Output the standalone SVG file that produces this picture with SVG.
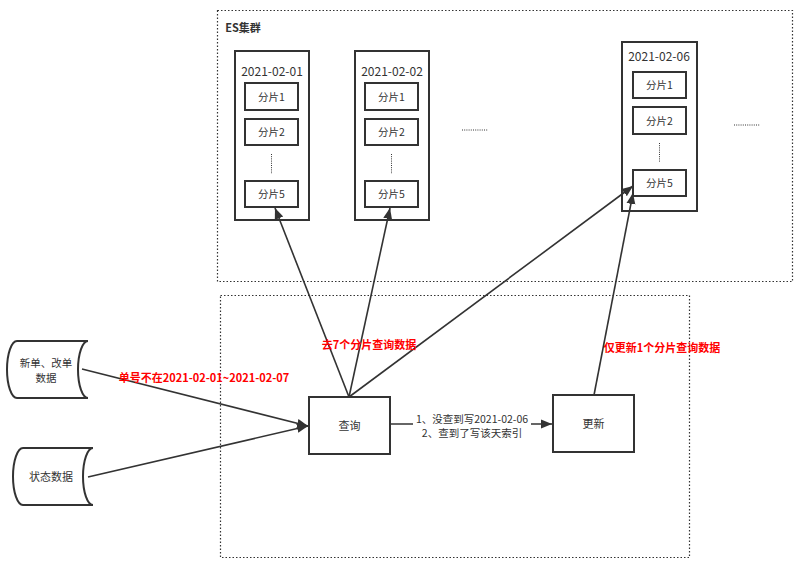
<svg xmlns="http://www.w3.org/2000/svg" width="800" height="563" viewBox="0 0 800 563">
<defs>
<style>
text{font-family:"Noto Sans CJK SC","Noto Sans",sans-serif;fill:#333;text-anchor:middle}
.grp{fill:none;stroke:#333;stroke-width:1.2;stroke-dasharray:1.5 2}
.box{fill:#fff;stroke:#333;stroke-width:2}
.sh{font-size:10.5px}
.dt{font-size:12px}
.red{fill:#f00;font-weight:bold;font-size:11px}
.edge{fill:none;stroke:#333;stroke-width:1.6}
.dots{stroke:#333;stroke-width:1;stroke-dasharray:1 1.2}
.lbl{font-size:10.5px}
</style>
<marker id="ah" markerUnits="userSpaceOnUse" markerWidth="12" markerHeight="12" viewBox="0 0 12 12" refX="11" refY="6" orient="auto">
<path d="M0,1.5 L11,6 L0,10.5 Z" fill="#333"/>
</marker>
</defs>

<g id="es-cluster">
<rect class="grp" x="217.5" y="10.5" width="575" height="271"/>
<text x="243" y="32" style="font-size:11px;font-weight:bold">ES集群</text>
</g>
<g id="process-area">
<rect class="grp" x="220.5" y="295.5" width="469" height="262"/>
</g>

<g id="idx-0201">
<rect class="box" x="235" y="51" width="74" height="169"/>
<text class="dt" x="272" y="76">2021-02-01</text>
<rect class="box" x="245" y="83" width="53" height="27"/><text class="sh" x="271.5" y="100.5">分片1</text>
<rect class="box" x="245" y="119" width="53" height="26"/><text class="sh" x="271.5" y="136">分片2</text>
<line class="dots" x1="271.5" y1="154" x2="271.5" y2="174"/>
<rect class="box" x="245" y="181" width="53" height="26"/><text class="sh" x="271.5" y="198">分片5</text>
</g>
<g id="idx-0202">
<rect class="box" x="355" y="51" width="74" height="169"/>
<text class="dt" x="392" y="76">2021-02-02</text>
<rect class="box" x="365" y="83" width="53" height="27"/><text class="sh" x="391.5" y="100.5">分片1</text>
<rect class="box" x="365" y="119" width="53" height="26"/><text class="sh" x="391.5" y="136">分片2</text>
<line class="dots" x1="391.5" y1="154" x2="391.5" y2="174"/>
<rect class="box" x="365" y="181" width="53" height="26"/><text class="sh" x="391.5" y="198">分片5</text>
</g>
<g id="ellipsis-1"><line class="dots" x1="462" y1="130" x2="488" y2="130"/></g>
<g id="idx-0206">
<rect class="box" x="622" y="42" width="75" height="169"/>
<text class="dt" x="659" y="61">2021-02-06</text>
<rect class="box" x="633" y="72" width="53" height="26"/><text class="sh" x="659.5" y="89">分片1</text>
<rect class="box" x="633" y="107" width="53" height="27"/><text class="sh" x="659.5" y="124.5">分片2</text>
<line class="dots" x1="659.5" y1="143" x2="659.5" y2="162"/>
<rect class="box" x="633" y="170" width="53" height="26"/><text class="sh" x="659.5" y="187">分片5</text>
</g>
<g id="ellipsis-2"><line class="dots" x1="734" y1="125" x2="760" y2="125"/></g>

<g id="src-new">
<path class="box" d="M17,341 L88,341 A10,28.5 0 0 0 88,398 L17,398 A10,28.5 0 0 1 17,341 Z"/>
<text x="46" y="367" style="font-size:10.5px">新单、改单</text>
<text x="46" y="382" style="font-size:10.5px">数据</text>
</g>
<g id="src-status">
<path class="box" d="M23,448 L93,448 A10,28.5 0 0 0 93,505 L23,505 A10,28.5 0 0 1 23,448 Z"/>
<text x="51" y="481" style="font-size:11px">状态数据</text>
</g>

<g id="query">
<rect class="box" x="309" y="397" width="81" height="57"/>
<text x="349.5" y="429.5" style="font-size:11px">查询</text>
</g>
<g id="update">
<rect class="box" x="553" y="395" width="81" height="57"/>
<text x="593.5" y="427.5" style="font-size:11px">更新</text>
</g>

<g id="connectors">
<line class="edge" x1="82" y1="369" x2="308" y2="426" marker-end="url(#ah)"/>
<line class="edge" x1="88" y1="477" x2="308" y2="426" marker-end="url(#ah)"/>
<line class="edge" x1="349" y1="397" x2="275" y2="208" marker-end="url(#ah)"/>
<line class="edge" x1="349" y1="397" x2="390" y2="208" marker-end="url(#ah)"/>
<line class="edge" x1="349" y1="397" x2="633" y2="186" marker-end="url(#ah)"/>
<line class="edge" x1="594" y1="395" x2="633" y2="193" marker-end="url(#ah)"/>
<line class="edge" x1="390" y1="424" x2="552" y2="424" marker-end="url(#ah)"/>
<rect x="413" y="411" width="118" height="29" fill="#fff"/>
<text class="lbl" x="472" y="423">1、没查到写2021-02-06</text>
<text class="lbl" x="472" y="437">2、查到了写该天索引</text>
<text class="red" x="369" y="349">去7个分片查询数据</text>
<text class="red" x="204" y="382">单号不在2021-02-01~2021-02-07</text>
<text class="red" x="662" y="352">仅更新1个分片查询数据</text>
</g>
</svg>
